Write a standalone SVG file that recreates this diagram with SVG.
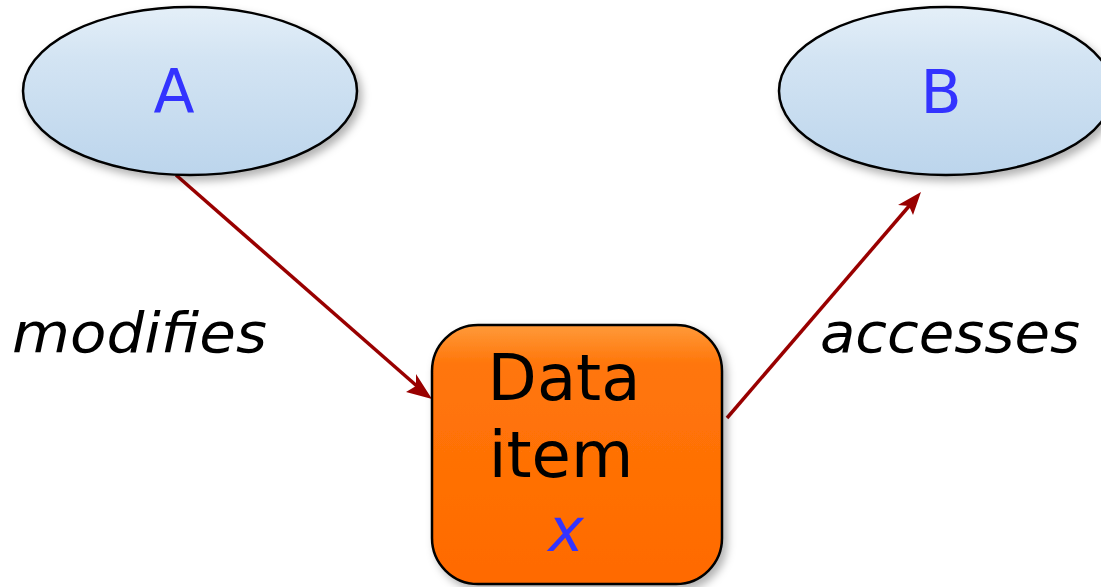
<svg xmlns="http://www.w3.org/2000/svg" width="1101" height="587" viewBox="0 0 1101 587">
<style>
.lbl{font-family:"Comic Sans MS","DejaVu Sans",sans-serif;font-style:italic;font-size:56px;fill:#000}
.node-t{font-family:"Comic Sans MS","DejaVu Sans",sans-serif;font-size:60px;fill:#3333ff;text-anchor:middle}
.data-t{font-family:"Comic Sans MS","DejaVu Sans",sans-serif;font-size:64px;fill:#000;text-anchor:middle}
.ell{fill:url(#gBlue);stroke:#000;stroke-width:2.5;filter:url(#sh)}
.conn{stroke:#990000;stroke-width:3.5;fill:none}
.head{fill:#990000}
</style>
<defs>
<linearGradient id="gBlue" x1="0" y1="0" x2="0" y2="1">
<stop offset="0" stop-color="#e4eff8"/>
<stop offset="0.3" stop-color="#d3e4f3"/>
<stop offset="1" stop-color="#bcd5ec"/>
</linearGradient>
<linearGradient id="gOr" x1="0" y1="0" x2="0" y2="1">
<stop offset="0" stop-color="#ff9a3a"/>
<stop offset="0.15" stop-color="#ff760a"/>
<stop offset="1" stop-color="#ff6a00"/>
</linearGradient>
<filter id="sh" x="-10%" y="-10%" width="125%" height="130%">
<feDropShadow dx="4" dy="5" stdDeviation="4" flood-color="#000" flood-opacity="0.3"/>
</filter>
</defs>
<g id="connectors">
<line class="conn" x1="176" y1="175" x2="426" y2="394"/>
<path class="head" d="M432,399 L406,392 L416,386 L416,374 Z"/>
<line class="conn" x1="727" y1="418" x2="916" y2="198"/>
<path class="head" d="M921,192 L913,215 L909,206 L898,205 Z"/>
</g>
<g id="nodeA">
<ellipse class="ell" cx="190" cy="91" rx="167" ry="84"/>
<text class="node-t" x="174" y="112">A</text>
</g>
<g id="nodeB">
<ellipse class="ell" cx="946" cy="91" rx="167" ry="84"/>
<text class="node-t" x="941" y="113">B</text>
</g>
<g id="dataItem">
<rect x="432" y="325" width="290" height="259" rx="46" ry="46" fill="url(#gOr)" stroke="#000" stroke-width="2.5" filter="url(#sh)"/>
<text class="data-t" x="564" y="400">Data</text>
<text class="data-t" x="561" y="477">item</text>
<text class="node-t" x="566" y="551" font-style="italic">x</text>
</g>
<g id="labels">
<text class="lbl" x="12" y="352" textLength="255" lengthAdjust="spacingAndGlyphs">modifies</text>
<text class="lbl" x="820" y="352" textLength="260" lengthAdjust="spacingAndGlyphs">accesses</text>
</g>
</svg>
